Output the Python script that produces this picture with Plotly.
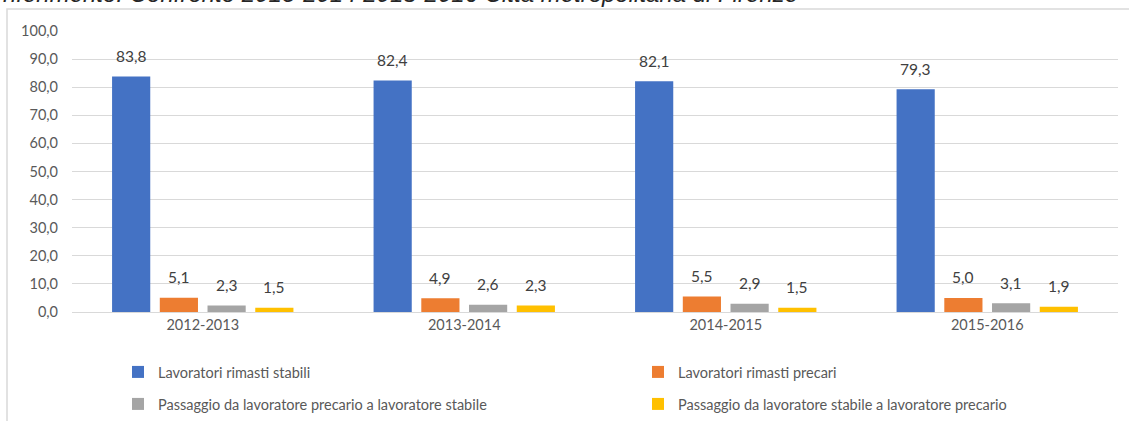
import plotly.graph_objects as go

categories = ["2012-2013", "2013-2014", "2014-2015", "2015-2016"]
series_names = [
    "Lavoratori rimasti stabili",
    "Lavoratori rimasti precari",
    "Passaggio da lavoratore precario a lavoratore stabile",
    "Passaggio da lavoratore stabile a lavoratore precario",
]
stabili = [83.8, 82.4, 82.1, 79.3]
precari = [5.1, 4.9, 5.5, 5.0]
prec_to_stab = [2.3, 2.6, 2.9, 3.1]
stab_to_prec = [1.5, 2.3, 1.5, 1.9]
colors = ["#4472C4", "#ED7D31", "#A5A5A5", "#FFC000"]
title_text = "riferimento. Confronto 2013-2014 2015-2016 Città metropolitana di Firenze"

W, H = 1129, 421
ML, MR, MT, MB = 72, 11, 31, 109
PW = W - ML - MR
PH = H - MT - MB
BARGAP = 0.27
BARGROUPGAP = 0.2

def px_x(p):
    return (p - ML) / PW

def px_y(p):
    return (H - MB - p) / PH

FONT = "Lato, 'Open Sans', sans-serif"

fig = go.Figure()
all_vals = [stabili, precari, prec_to_stab, stab_to_prec]
legend_ids = ["legend", "legend2", "legend3", "legend4"]
n_series = len(all_vals)
slot = (1 - BARGAP) / n_series
annotations = []
for j, (name, vals, col, lg) in enumerate(zip(series_names, all_vals, colors, legend_ids)):
    fig.add_trace(go.Bar(
        x=categories, y=vals, name=name,
        marker=dict(color=col, line=dict(width=0)),
        legend=lg,
    ))
    for i, v in enumerate(vals):
        annotations.append(dict(
            x=i + (j - (n_series - 1) / 2) * slot, y=v, xref="x", yref="y",
            text=f"{v:.1f}".replace(".", ","), showarrow=False,
            xanchor="center", yanchor="middle", yshift=20.5,
            font=dict(family=FONT, size=15.5, color="#404040"),
        ))

annotations.append(dict(text=title_text, xref="paper", yref="paper",
                        x=px_x(1), y=px_y(9.5), xanchor="left", yanchor="bottom",
                        showarrow=False,
                        font=dict(family="Liberation Sans, Arial, sans-serif", size=24,
                                  color="#262626", style="italic")))

leg_common = dict(orientation="v", font=dict(family=FONT, size=14.5, color="#595959"),
                  bgcolor="rgba(0,0,0,0)", yanchor="middle", xanchor="left")
fig.update_layout(
    width=W, height=H,
    margin=dict(l=ML, r=MR, t=MT, b=MB, autoexpand=False),
    paper_bgcolor="white", plot_bgcolor="white",
    separators=",.",
    barmode="group", bargap=BARGAP, bargroupgap=BARGROUPGAP,
    showlegend=True,
    legend=dict(x=px_x(118), y=px_y(372), **leg_common),
    legend2=dict(x=px_x(638), y=px_y(372), **leg_common),
    legend3=dict(x=px_x(118), y=px_y(404), **leg_common),
    legend4=dict(x=px_x(638), y=px_y(404), **leg_common),
    xaxis=dict(showgrid=False, showline=True, linecolor="#D9D9D9", ticks="",
               tickfont=dict(family=FONT, size=14.5, color="#595959")),
    yaxis=dict(range=[0, 100], dtick=10, tickformat=".1f", showgrid=True,
               gridcolor="#D9D9D9", zeroline=False, showline=False, ticks="",
               tickfont=dict(family=FONT, size=14.5, color="#595959"), ticklabelstandoff=13),
    shapes=[dict(type="rect", xref="paper", yref="paper",
                 x0=px_x(7), x1=px_x(1140), y0=px_y(440), y1=px_y(9),
                 line=dict(color="#D9D9D9", width=1.5), fillcolor="rgba(0,0,0,0)", layer="below")],
    annotations=annotations,
)
fig.write_html("out.html", config={"displayModeBar": False},
               post_script="document.body.style.margin='0';document.body.style.overflow='hidden';")
